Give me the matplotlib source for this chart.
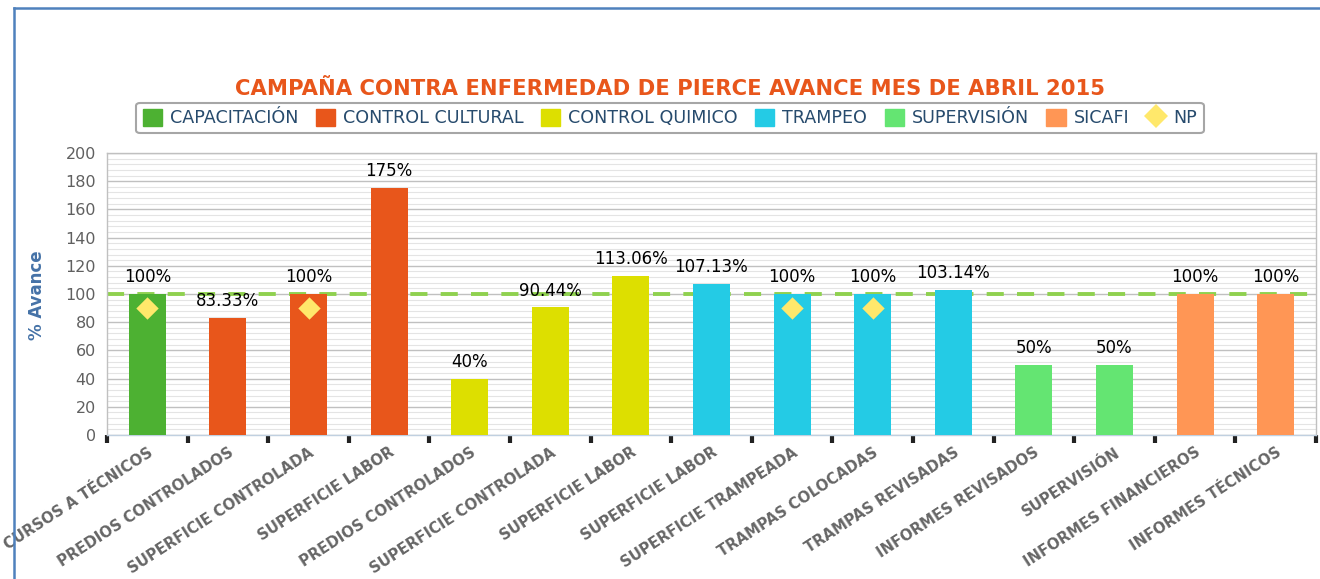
import matplotlib
matplotlib.use("Agg")
import matplotlib.pyplot as plt
import numpy as np
from matplotlib.lines import Line2D
from matplotlib.patches import Patch
from matplotlib.ticker import MultipleLocator

categories = ["CURSOS A TÉCNICOS", "PREDIOS CONTROLADOS", "SUPERFICIE CONTROLADA",
              "SUPERFICIE LABOR", "PREDIOS CONTROLADOS", "SUPERFICIE CONTROLADA",
              "SUPERFICIE LABOR", "SUPERFICIE LABOR", "SUPERFICIE TRAMPEADA",
              "TRAMPAS COLOCADAS", "TRAMPAS REVISADAS", "INFORMES REVISADOS",
              "SUPERVISIÓN", "INFORMES FINANCIEROS", "INFORMES TÉCNICOS"]
values = [100, 83.33, 100, 175, 40, 90.44, 113.06, 107.13, 100, 100, 103.14, 50, 50, 100, 100]
value_labels = ["100%", "83.33%", "100%", "175%", "40%", "90.44%", "113.06%", "107.13%",
                "100%", "100%", "103.14%", "50%", "50%", "100%", "100%"]
groups = ["CAPACITACIÓN", "CONTROL CULTURAL", "CONTROL CULTURAL", "CONTROL CULTURAL",
          "CONTROL QUIMICO", "CONTROL QUIMICO", "CONTROL QUIMICO",
          "TRAMPEO", "TRAMPEO", "TRAMPEO", "TRAMPEO",
          "SUPERVISIÓN", "SUPERVISIÓN", "SICAFI", "SICAFI"]
series_names = ["CAPACITACIÓN", "CONTROL CULTURAL", "CONTROL QUIMICO", "TRAMPEO", "SUPERVISIÓN", "SICAFI"]
series_colors = ["#4DB132", "#E8561B", "#DDDF00", "#24CBE5", "#64E572", "#FF9655"]
np_indices = [0, 2, 8, 9]
np_values = [90, 90, 90, 90]
target = 100

color_map = dict(zip(series_names, series_colors))

fig = plt.figure(figsize=(13.2, 5.79), dpi=100)
ax = fig.add_axes([107/1320, 1-435/579, (1316-107)/1320, (435-153)/579])

x = np.arange(len(categories))
ax.bar(x, values, width=0.46, color=[color_map[g] for g in groups], zorder=3)
ax.axhline(target, color="#8FD14F", lw=2.8, dashes=(4.4, 3.4), zorder=2)
ax.scatter([x[i] for i in np_indices], np_values, marker="D", s=130, color="#FFE86B",
           zorder=4, linewidths=0)
for xi, v, lab in zip(x, values, value_labels):
    ax.text(xi, v + 5.5, lab, ha="center", va="bottom", fontsize=12, color="black", zorder=5)

ax.set_xlim(-0.5, len(categories) - 0.5)
ax.set_ylim(0, 200)
ax.yaxis.set_major_locator(MultipleLocator(20))
ax.yaxis.set_minor_locator(MultipleLocator(4))
ax.grid(which="major", axis="y", color="#C0C0C0", lw=1, zorder=0)
ax.grid(which="minor", axis="y", color="#E4E4E4", lw=0.8, zorder=0)
ax.set_axisbelow(True)
ax.tick_params(axis="y", which="both", length=0, labelsize=11.5, labelcolor="#606060", pad=8)

ax.set_xticks(np.arange(len(categories) + 1) - 0.5, minor=False)
ax.set_xticklabels([])
ax.tick_params(axis="x", which="major", length=6, width=3, color="#222222", direction="out")
ax.set_xticks(x, minor=True)
ax.set_xticklabels(categories, minor=True, rotation=33, ha="right", rotation_mode="anchor",
                   fontsize=10.7, fontweight="bold", color="#666666")
ax.tick_params(axis="x", which="minor", length=0, pad=7)

for s in ["left", "top", "right"]:
    ax.spines[s].set_color("#C0C0C0")
    ax.spines[s].set_linewidth(1)
ax.spines["bottom"].set_color("#C0D0E0")
ax.spines["bottom"].set_linewidth(1)

fig.text(37/1320, 1-295/579, "% Avance", rotation=90, ha="center", va="center",
         fontsize=12, fontweight="bold", color="#4572A7")

fig.text(670/1320, 1-89/579, "CAMPAÑA CONTRA ENFERMEDAD DE PIERCE AVANCE MES DE ABRIL 2015",
         ha="center", va="center", fontsize=15.2, fontweight="bold", color="#E8561B")

handles = [Patch(facecolor=c, edgecolor=c, label=n) for n, c in zip(series_names, series_colors)]
handles.append(Line2D([], [], marker="D", linestyle="none", markersize=12, color="#FFE86B",
                      markeredgewidth=0, label="NP"))
leg = fig.legend(handles=handles, loc="center", bbox_to_anchor=(670/1320, 1-118/579), ncol=7,
                 fontsize=12.6, frameon=True, fancybox=True, handlelength=1.1, handleheight=1.1,
                 handletextpad=0.45, columnspacing=1.0, borderpad=0.35)
leg.get_frame().set_edgecolor("#909090")
leg.get_frame().set_linewidth(1.5)
for t in leg.get_texts():
    t.set_color("#274b6d")

# outer blue frame
fig.add_artist(Line2D([14/1320, 14/1320], [0, 1-8/579], color="#4F81BD", lw=1.8,
                      transform=fig.transFigure))
fig.add_artist(Line2D([14/1320, 1], [1-8/579, 1-8/579], color="#4F81BD", lw=1.8,
                      transform=fig.transFigure))

fig.savefig("out.png", dpi=100)
